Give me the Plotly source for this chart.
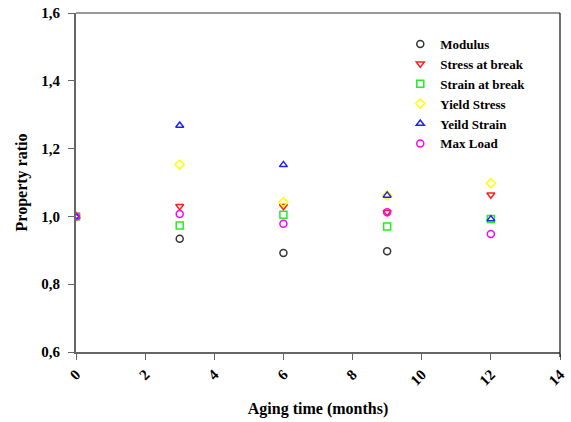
import plotly.graph_objects as go

months = [0, 3, 6, 9, 12]
modulus = [1.0, 0.934, 0.892, 0.897, None]
stress_break = [1.0, 1.030, 1.030, 1.012, 1.064]
strain_break = [1.0, 0.973, 1.005, 0.970, 0.992]
yield_stress = [1.0, 1.153, 1.042, 1.062, 1.098]
yield_strain = [1.0, 1.268, 1.152, 1.062, 0.992]
max_load = [1.0, 1.007, 0.978, 1.012, 0.948]

series = [
    ("Modulus", modulus, "circle-open", "#333333"),
    ("Stress at break", stress_break, "triangle-down-open", "#ff2020"),
    ("Strain at break", strain_break, "square-open", "#22ee22"),
    ("Yield Stress", yield_stress, "diamond-open", "#ffff00"),
    ("Yeild Strain", yield_strain, "triangle-up-open", "#2020ff"),
    ("Max Load", max_load, "circle-open", "#ff00ff"),
]

fig = go.Figure()
for name, vals, sym, col in series:
    fig.add_trace(go.Scatter(
        x=months, y=vals, mode="markers", name=name,
        marker=dict(symbol=sym, size=7, color=col, line=dict(width=1.5, color=col)),
    ))

fam = "Liberation Serif, Times New Roman, serif"
fig.update_layout(
    width=571, height=422,
    margin=dict(l=76, r=11, t=13, b=70),
    plot_bgcolor="white", paper_bgcolor="white",
    font=dict(family=fam, size=15, color="black"),
    showlegend=True,
    legend=dict(x=0.67, y=0.953, xanchor="left", yanchor="top",
                font=dict(family=fam, size=13, color="black", weight="bold"),
                bgcolor="rgba(0,0,0,0)", tracegroupgap=0, itemwidth=30),
    xaxis=dict(range=[0, 14], tickvals=[0, 2, 4, 6, 8, 10, 12, 14],
               tickangle=-45, ticks="outside", ticklen=6, tickcolor="#666",
               ticklabeloverflow="allow",
               showline=True, linecolor="#666", linewidth=2,
               showgrid=False, zeroline=False, automargin=False,
               tickfont=dict(family=fam, size=15, weight="bold"),
               title=dict(text="<b>Aging time (months)</b>", font=dict(size=16), standoff=15)),
    yaxis=dict(range=[0.6, 1.6], tickvals=[0.6, 0.8, 1.0, 1.2, 1.4, 1.6],
               ticktext=["0,6", "0,8", "1,0", "1,2", "1,4", "1,6"],
               ticks="outside", ticklen=6, tickcolor="#666", ticklabelstandoff=5,
               ticklabeloverflow="allow",
               showline=True, linecolor="#666", linewidth=2,
               showgrid=False, zeroline=False, automargin=False,
               tickfont=dict(family=fam, size=15, weight="bold"),
               title=dict(text="<b>Property ratio</b>", font=dict(size=16), standoff=10)),
    shapes=[
        dict(type="line", xref="paper", yref="paper", x0=0, x1=1, y0=1, y1=1,
             line=dict(color="#777", width=1.5), layer="above"),
        dict(type="line", xref="paper", yref="paper", x0=1, x1=1, y0=-0.015, y1=1,
             line=dict(color="#111", width=1.2), layer="above"),
    ],
)

# remove the default page margin so the figure fills the window exactly
fig.write_html("out.html", config={"displayModeBar": False},
               post_script="document.body.style.margin='0';")
